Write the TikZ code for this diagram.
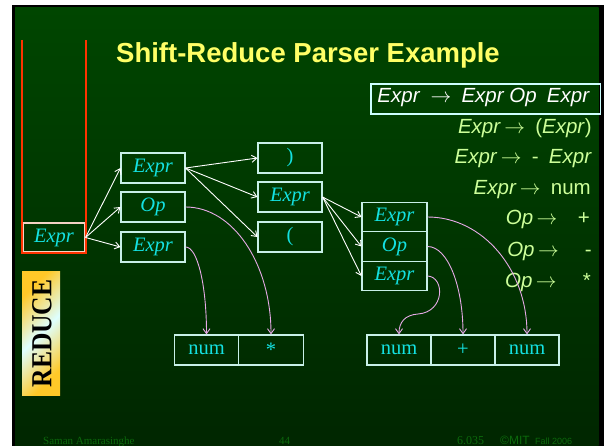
\documentclass[tikz,border=0pt]{standalone}
\usepackage{fontspec}
\setmainfont{Liberation Serif}
\setsansfont{Liberation Sans}
\usetikzlibrary{arrows.meta}

\definecolor{bgtop}{RGB}{0,70,0}
\definecolor{bgbot}{RGB}{0,38,0}
\definecolor{titleyellow}{RGB}{255,255,102}
\definecolor{rulegreen}{RGB}{204,255,153}
\definecolor{boxline}{RGB}{200,240,232}
\definecolor{symcyan}{RGB}{20,225,225}
\definecolor{stackred}{RGB}{255,51,0}
\definecolor{stackline}{RGB}{244,210,196}
\definecolor{linkpink}{RGB}{230,170,230}
\definecolor{footgreen}{RGB}{12,105,12}
\definecolor{gold}{RGB}{255,200,40}
\definecolor{pale}{RGB}{222,255,255}
\definecolor{framecyan}{RGB}{204,255,255}

% gold - pale - gold band used for the REDUCE label
\pgfdeclarehorizontalshading{goldband}{100bp}{color(0bp)=(gold); color(26bp)=(gold); color(50bp)=(pale); color(74bp)=(gold); color(100bp)=(gold)}

\tikzset{
  sym/.style={draw=boxline, line width=1.1pt, minimum width=64pt, minimum height=30pt,
              inner sep=0pt, text=symcyan, font=\fontsize{20.5}{20}\selectfont},
  prod/.style={anchor=base east, inner sep=0pt, text=rulegreen,
               font=\sffamily\fontsize{20.5}{22}\selectfont},
  shiftlink/.style={draw=white, line width=0.9pt, -{Straight Barb[length=5pt,width=7pt]}},
  reducelink/.style={draw=linkpink, line width=0.9pt, -{Straight Barb[length=5pt,width=7pt]}},
  foot/.style={anchor=base west, inner sep=0pt, text=footgreen},
}

\begin{document}
\begin{tikzpicture}[x=1pt, y=-1pt]
\useasboundingbox (0,0) rectangle (604,446);
\clip (0,0) rectangle (604,446);

% slide frame and background
\fill[white] (0,0) rectangle (604,446);
\fill[black] (12,5) rectangle (604,446);
\shade[top color=bgtop, bottom color=bgbot] (15,8) rectangle (598.5,446);

% title
\node[anchor=base west, inner sep=0pt, text=titleyellow,
      font=\sffamily\bfseries\fontsize{27.5}{30}\selectfont] (title) at (116,63)
      {Shift-Reduce Parser Example};

% grammar
\draw[framecyan, line width=1.5pt] (371,84) rectangle (600.5,114);
\node[prod, text=white] (p1) at (590,103)
  {\textit{Expr}\enspace$\rightarrow$\enspace\textit{Expr Op}\enspace\textit{Expr}};
\node[prod] (p2) at (592,134) {\textit{Expr}\,$\rightarrow$\enspace(\textit{Expr})};
\node[prod] (p3) at (592,164) {\textit{Expr}\,$\rightarrow$\enspace-\enspace\textit{Expr}};
\node[prod] (p4) at (591,195) {\textit{Expr}\,$\rightarrow$\enspace num};
\node[prod] (p5) at (590,225) {\textit{Op}\,$\rightarrow$\quad+};
\node[prod] (p6) at (592,256) {\textit{Op}\,$\rightarrow$\quad\ -};
\node[prod] (p7) at (591,287) {\textit{Op}\,$\rightarrow$\quad\ *};

% stack
\node[sym, draw=stackline, minimum width=62pt, minimum height=29pt] (stk) at (54,237.5) {\textit{Expr}};
\draw[stackred, line width=2.2pt] (22,40) -- (22,253) -- (86,253) -- (86,40);

% REDUCE label
\shade[shading=goldband, shading angle=-45] (22,271) rectangle (60,395);
\node[rotate=90, inner sep=0pt, font=\bfseries\fontsize{29}{29}\selectfont] (reduce) at (42,333.5)
  {\scalebox{0.88}[1]{REDUCE}};

% parse tree nodes
\node[sym] (a1) at (153,168) {\textit{Expr}};
\node[sym] (a2) at (153,207) {\textit{Op}};
\node[sym] (a3) at (153,247) {\textit{Expr}};

\node[sym] (b1) at (290,158) {)};
\node[sym] (b2) at (290,197) {\textit{Expr}};
\node[sym] (b3) at (290,237) {(};

\node[sym, minimum width=65pt, minimum height=29.5pt] (c1) at (394.5,217) {\textit{Expr}};
\node[sym, minimum width=65pt, minimum height=29.5pt] (c2) at (394.5,246.5) {\textit{Op}};
\node[sym, minimum width=65pt, minimum height=29.5pt] (c3) at (394.5,276) {\textit{Expr}};

% input tokens
\node[sym, minimum width=64.5pt] (d1) at (206.5,350) {num};
\node[sym, minimum width=64.5pt] (d2) at (271,350) {*};

\node[sym] (e1) at (399,350) {num};
\node[sym] (e2) at (463,350) {+};
\node[sym] (e3) at (527,350) {num};

% shift links
\draw[shiftlink] (stk.east) -- (a1.west);
\draw[shiftlink] (stk.east) -- (a2.west);
\draw[shiftlink] (stk.east) -- (a3.west);
\draw[shiftlink] (a1.east) -- (b1.west);
\draw[shiftlink] (a1.east) -- (b2.west);
\draw[shiftlink] (a1.east) -- (b3.west);
\draw[shiftlink] (b2.east) -- (c1.west);
\draw[shiftlink] (b2.east) -- (c2.west);
\draw[shiftlink] (b2.east) -- (c3.west);

% reduce links to the tokens
\draw[reducelink] (a2.east) .. controls +(48,0) and +(0,-70) .. (d2.north);
\draw[reducelink] (a3.east) .. controls +(12,0) and +(0,-49) .. (d1.north);
\draw[reducelink] (c1.east) .. controls +(55,0) and +(0,-65) .. (e3.north);
\draw[reducelink] (c2.east) .. controls +(20,0) and +(0,-49) .. (e2.north);
\draw[reducelink] (c3.east) .. controls (445,277) and (445,312) .. (418,314)
                  .. controls (405,315) and (399,322) .. (e1.north);

% footer
\node[foot, font=\fontsize{11}{11}\selectfont] (f1) at (43,444.5) {Saman Amarasinghe};
\node[foot, font=\fontsize{11}{11}\selectfont] (f2) at (279,444.5) {44};
\node[foot, font=\fontsize{12}{12}\selectfont] (f3) at (457,444.5) {6.035};
\node[foot, font=\sffamily\fontsize{12}{12}\selectfont] (f4) at (500,444.5) {\textcopyright MIT};
\node[foot, font=\sffamily\fontsize{9}{9}\selectfont] (f5) at (535,444.5) {Fall 2006};
\end{tikzpicture}
\end{document}
